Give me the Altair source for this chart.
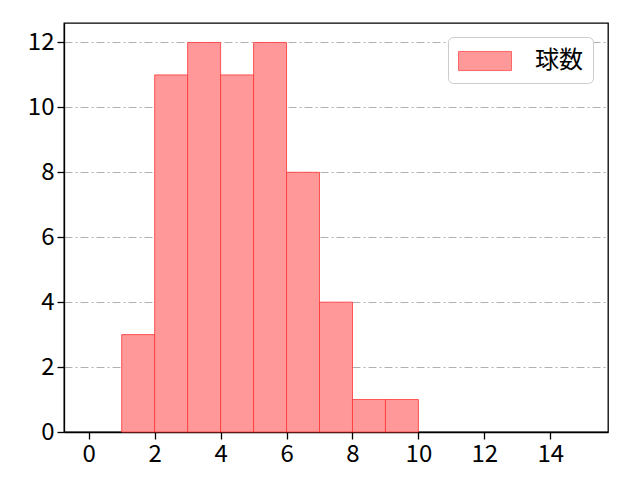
import altair as alt
import pandas as pd

bin_start = [1, 2, 3, 4, 5, 6, 7, 8, 9]
bin_end = [2, 3, 4, 5, 6, 7, 8, 9, 10]
counts = [3, 11, 12, 11, 12, 8, 4, 1, 1]
series = ["球数"] * len(counts)
x_ticks = [0, 2, 4, 6, 8, 10, 12, 14]
y_ticks = [0, 2, 4, 6, 8, 10, 12]

df = pd.DataFrame({"start": bin_start, "end": bin_end, "count": counts, "series": series})

FONT = "Noto Sans CJK JP"

chart = alt.Chart(df).mark_rect(
    fill="#ff9999", stroke="#ff3333", strokeWidth=1, strokeOpacity=0.8
).encode(
    x=alt.X("start:Q", scale=alt.Scale(domain=[-0.75, 15.75], nice=False, zero=False),
            axis=alt.Axis(values=x_ticks, title=None, grid=False, format="d")),
    x2="end:Q",
    y=alt.Y("count:Q", scale=alt.Scale(domain=[0, 12.6], nice=False),
            axis=alt.Axis(values=y_ticks, title=None, grid=True, format="d")),
    color=alt.Color("series:N", scale=alt.Scale(range=["#ff9999"]),
                    legend=alt.Legend(title=None)),
).properties(
    width=544, height=409,
    autosize=alt.AutoSizeParams(type="none"),
    padding={"left": 56, "top": 15, "right": 24, "bottom": 40},
).configure_view(
    stroke="#000000", strokeWidth=1.3
).configure_axis(
    domainColor="#000000", domainWidth=1.3,
    tickColor="#000000", tickWidth=1.3, tickSize=7,
    labelFont=FONT, labelFontSize=24, labelColor="#000000", labelPadding=3,
    gridColor="#b0b0b0", gridWidth=1, gridDash=[8, 3, 2, 3],
).configure_legend(
    orient="none", legendX=384, legendY=14,
    labelFont=FONT, labelFontSize=24, labelColor="#000000",
    symbolType="M-2,-0.72L2,-0.72L2,0.72L-2,0.72Z", symbolSize=702,
    symbolStrokeColor="#ff6666", symbolStrokeWidth=1,
    strokeColor="#cccccc", cornerRadius=5, padding=10, fillColor="#ffffff",
    labelOffset=36, symbolOffset=13,
)

chart.save("out.html", embed_options={"renderer": "svg", "actions": False})
